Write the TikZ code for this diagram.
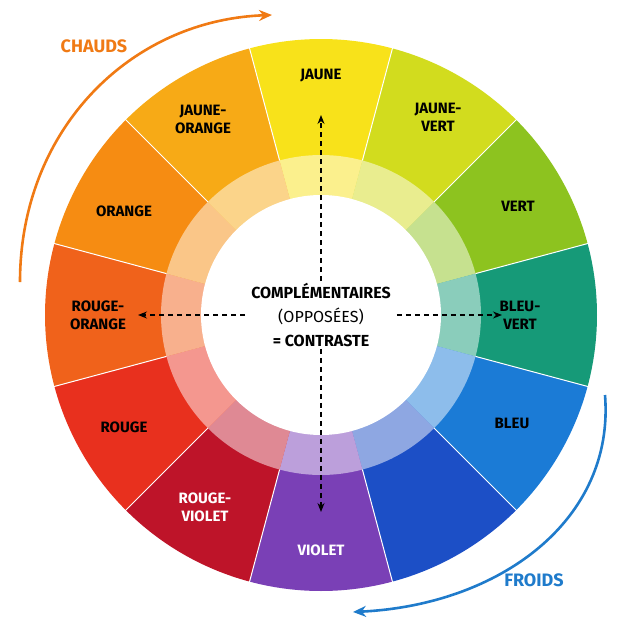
\documentclass[tikz,border=0pt]{standalone}
\usepackage{fontspec}
\setmainfont{Fira Sans}
\usetikzlibrary{arrows.meta,calc}
\definecolor{cJ}{HTML}{F8E21A}\definecolor{cJV}{HTML}{D2DC1E}\definecolor{cV}{HTML}{8DC31F}
\definecolor{cBV}{HTML}{169A78}\definecolor{cB}{HTML}{1B7BD6}\definecolor{cBVi}{HTML}{1C4FC6}
\definecolor{cVi}{HTML}{7A40B6}\definecolor{cRV}{HTML}{BE1429}\definecolor{cR}{HTML}{E8301E}
\definecolor{cRO}{HTML}{F0621B}\definecolor{cO}{HTML}{F68C12}\definecolor{cJO}{HTML}{F7AA16}
\definecolor{chaud}{HTML}{F07A14}\definecolor{froid}{HTML}{1F7BCB}
\tikzset{lab/.style={font=\bfseries\fontsize{15}{18}\selectfont,align=center,text=black},
 wlab/.style={lab,text=white},
 darr/.style={dash pattern=on 5pt off 4pt,line width=1.2pt,-{Stealth[length=9pt,width=7pt]}}}
\begin{document}
\begin{tikzpicture}[x=1pt,y=-1pt]
\useasboundingbox (0,0) rectangle (628,635);
\coordinate (C) at (321,315);
\foreach \c [count=\i] in {cJ,cJV,cV,cBV,cB,cBVi,cVi,cRV,cR,cRO,cO,cJO}{
 \pgfmathsetmacro\a{90-(\i-1)*30}
 \fill[\c] (C) -- ($(C)+(-\a-15:276)$) arc[start angle=-\a-15,end angle=-\a+15,radius=276] -- cycle;
}
\foreach \c [count=\i] in {cJ,cJV,cV,cBV,cB,cBVi,cVi,cRV,cR,cRO,cO,cJO}{
 \pgfmathsetmacro\a{90-(\i-1)*30}
 \fill[\c!50!white] (C) -- ($(C)+(-\a-15:160)$) arc[start angle=-\a-15,end angle=-\a+15,radius=160] -- cycle;
}
\foreach \i in {0,...,11}{\draw[white,line width=1pt] ($(C)+(\i*30+15:160)$) -- ($(C)+(\i*30+15:277)$);}
\fill[white] (C) circle[radius=120];
\node[lab] (j) at (321,76) {JAUNE};
\node[lab] (jv) at (438,117) {JAUNE-\\VERT};
\node[lab] (v) at (518,206) {VERT};
\node[lab] (bv) at (520,315) {BLEU-\\VERT};
\node[lab] (b) at (512,423) {BLEU};
\node[wlab] (vi) at (321,550) {VIOLET};
\node[wlab] (rv) at (205,507) {ROUGE-\\VIOLET};
\node[lab] (r) at (124,427) {ROUGE};
\node[lab] (ro) at (98,315) {ROUGE-\\ORANGE};
\node[lab] (o) at (124,211) {ORANGE};
\node[lab] (jo) at (203,119) {JAUNE-\\ORANGE};
\node[align=center,font=\fontsize{16}{24}\selectfont,inner sep=2pt] (t) at (C) {\textbf{COMPLÉMENTAIRES}\\(OPPOSÉES)\\\textbf{= CONTRASTE}};
\coordinate (up) at (321,115);\coordinate (dn) at (321,512);
\coordinate (lf) at (138,315);\coordinate (rt) at (502,315);
\draw[darr] (t.north) -- (up);\draw[darr] (t.south) -- (dn);
\draw[darr] ([xshift=-4pt]t.west) -- (lf);\draw[darr] ([xshift=4pt]t.east) -- (rt);
\coordinate (c1) at (20,282);\coordinate (c2) at (272,15);
\draw[chaud,line width=2.6pt,-{Stealth[length=13pt,width=11pt]}] (c1) .. controls (20,130) and (130,20) .. (c2);
\node[text=chaud,font=\bfseries\fontsize{18}{20}\selectfont] (ch) at (94,46) {CHAUDS};
\coordinate (f1) at (605,395);\coordinate (f2) at (353,612);
\draw[froid,line width=2.6pt,-{Stealth[length=13pt,width=11pt]}] (f1) .. controls (615,520) and (500,605) .. (f2);
\node[text=froid,font=\bfseries\fontsize{18}{20}\selectfont] (fr) at (534,580) {FROIDS};
\end{tikzpicture}
\end{document}
